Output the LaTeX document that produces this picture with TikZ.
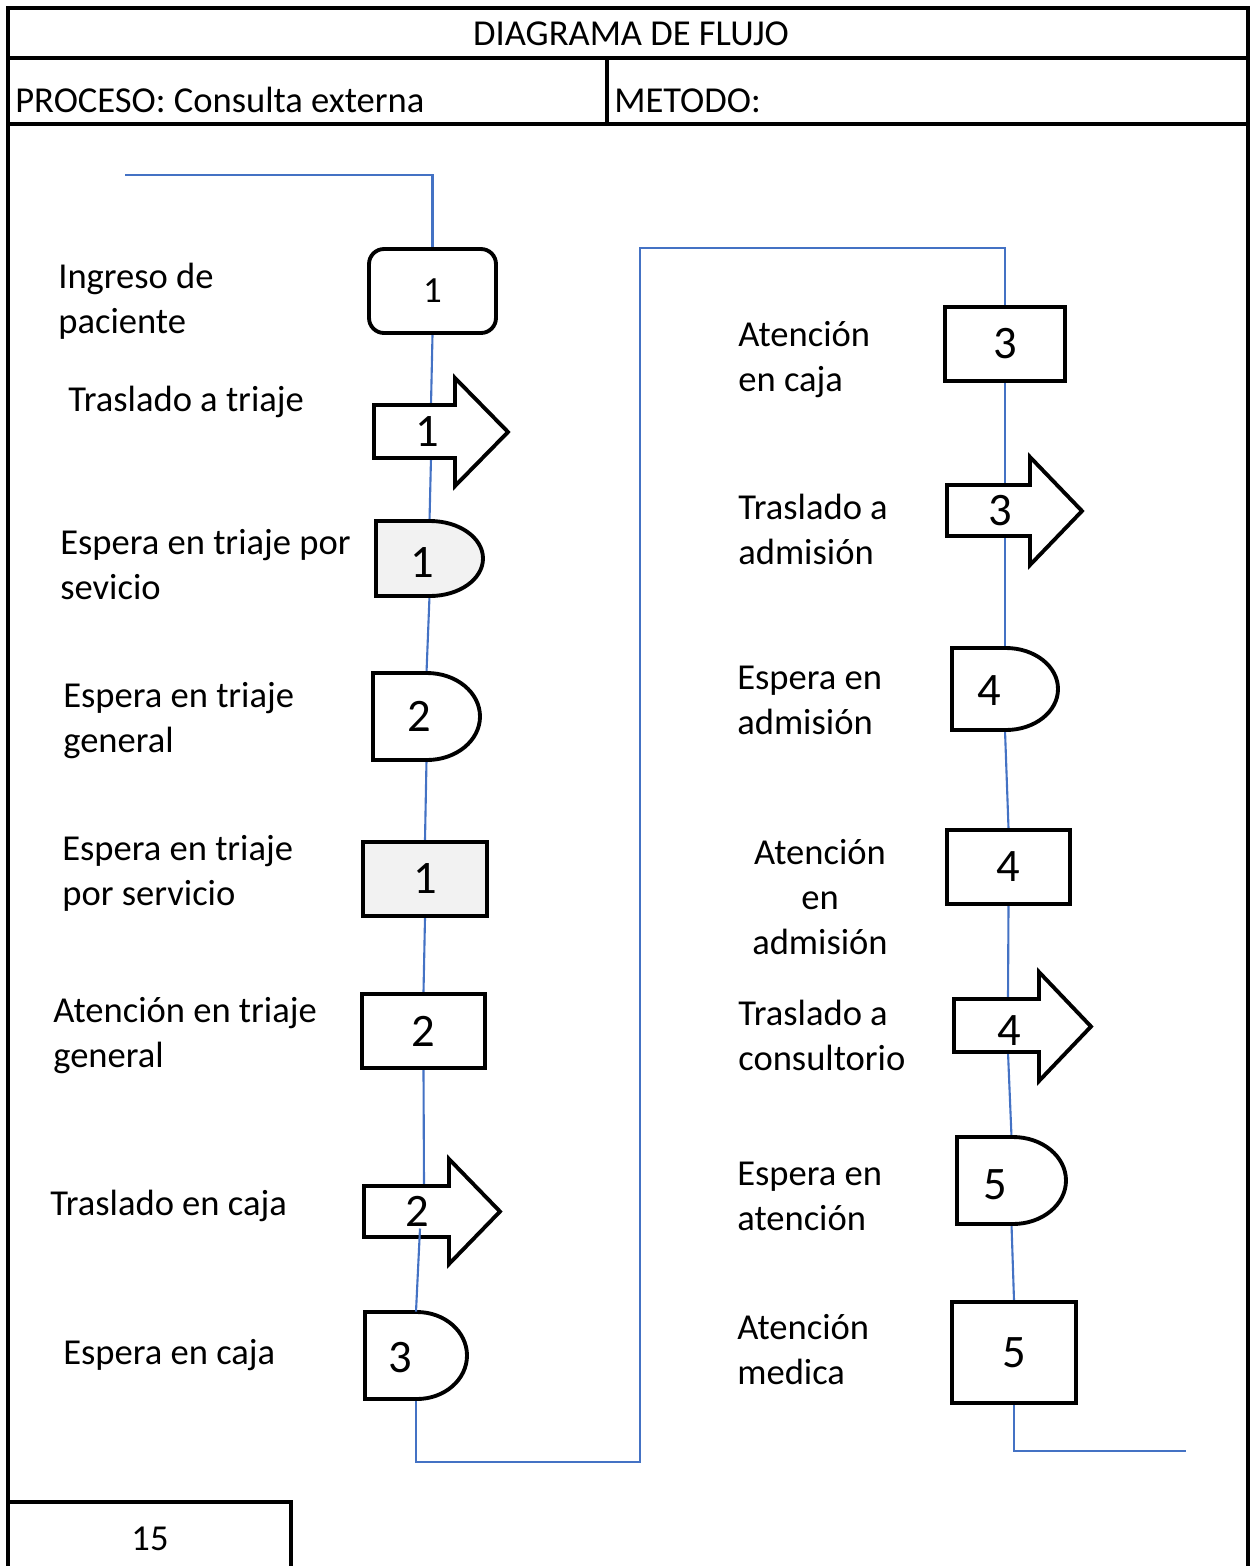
\documentclass[tikz,border=0pt]{standalone}
\usepackage{fontspec}
\setmainfont{Carlito}
\usetikzlibrary{backgrounds,calc}
\definecolor{flowblue}{RGB}{68,114,196}
\definecolor{shadegray}{RGB}{242,242,242}
\newcommand\lblfont{\fontsize{20.8pt}{25.6pt}\selectfont}
\newcommand\bignum{\fontsize{26.5pt}{30pt}\selectfont}
\newcommand\smallnum{\fontsize{21pt}{24pt}\selectfont}
% delay outline: x1,y1,x2,y2,mx,fill
\newcommand\delaypath[6]{%
  \draw[shp, fill=#6] (#1,#2) -- (#5,#2)
    .. controls ({#5+0.5523*(#3-#5)},#2) and (#3,{#2+0.2239*(#4-#2)}) .. (#3,{0.5*(#2+#4)})
    .. controls (#3,{#4-0.2239*(#4-#2)}) and ({#5+0.5523*(#3-#5)},#4) .. (#5,#4)
    -- (#1,#4) -- cycle;}
% arrow outline: xleft, bodytop, bodybottom, headbase x, headtop, headbottom, tip x
\newcommand\arrowpath[7]{%
  \draw[shp] (#1,#2) -- (#4,#2) -- (#4,#5) -- (#7,{0.5*(#5+#6)}) -- (#4,#6) -- (#4,#3) -- (#1,#3) -- cycle;}
\begin{document}
\begin{tikzpicture}[x=0.02cm,y=-0.02cm,
  frameline/.style={line width=2pt},
  shp/.style={draw=black, line width=2.2pt, line join=miter, fill=white},
  procbox/.style={shp, rectangle, inner sep=0pt, font=\bignum},
  anchorbox/.style={inner sep=0pt, draw=none, minimum width=0.6cm},
  dig/.style={inner sep=0pt, font=\bignum},
  flow/.style={draw=flowblue, line width=1.2pt},
  lbl/.style={anchor=base west, align=left, inner sep=0pt, font=\lblfont},
  hdr/.style={inner sep=0pt, font=\lblfont}]
\useasboundingbox (0,0) rectangle (1250,1566);
% frame
\draw[frameline] (8,1570) -- (8,8) -- (1248,8) -- (1248,1570);
\draw[frameline] (8,58) -- (1248,58);
\draw[frameline] (8,124) -- (1248,124);
\draw[frameline] (607,58) -- (607,124);
\draw[frameline] (8,1502) -- (291,1502) -- (291,1570);
\node[hdr, anchor=base] (title) at (631,45) {DIAGRAMA DE FLUJO};
\node[hdr, anchor=base west] (proceso) at (15,112) {PROCESO: Consulta externa};
\node[hdr, anchor=base west] (metodo) at (614,112) {METODO:};
\node[hdr, anchor=base] (pagenum) at (150,1550) {15};

% left column shapes
\node[procbox, rounded corners=0.3cm, minimum width=2.54cm, minimum height=1.68cm, font=\smallnum] (s1) at (432.5,291) {1};
\arrowpath{374}{405}{458}{455}{378}{486}{508}
\node[anchorbox, minimum height=1.06cm, label={[dig, xshift=-0.08cm]center:1}] (a1) at (431,431.5) {};
\delaypath{376}{521}{483}{596}{430}{shadegray}
\node[anchorbox, minimum height=1.5cm, label={[dig, xshift=-0.15cm, yshift=-0.09cm]center:1}] (d1) at (429.5,558.5) {};
\delaypath{373}{673}{480}{760}{427}{white}
\node[anchorbox, minimum height=1.74cm, label={[dig, xshift=-0.15cm]center:2}] (d2) at (426.5,716.5) {};
\node[procbox, fill=shadegray, minimum width=2.48cm, minimum height=1.48cm] (r1) at (425,879) {1};
\node[procbox, minimum width=2.46cm, minimum height=1.48cm] (r2) at (423.5,1031) {2};
\arrowpath{364}{1186}{1237}{449}{1159}{1264}{500}
\node[anchorbox, minimum height=1.02cm, label={[dig, xshift=-0.14cm]center:2}] (a2) at (424,1211.5) {};
\delaypath{365}{1312}{467}{1399}{417}{white}
\node[anchorbox, minimum height=1.74cm, label={[dig, xshift=-0.32cm, yshift=-0.05cm]center:3}] (d3) at (416,1355.5) {};

% right column shapes
\node[procbox, minimum width=2.4cm, minimum height=1.48cm] (r3) at (1005,344) {3};
\arrowpath{947}{485}{536}{1030}{457}{565}{1082}
\node[anchorbox, minimum height=1.02cm, label={[dig, xshift=-0.1cm]center:3}] (a3) at (1005,510.5) {};
\delaypath{952}{648}{1058}{730}{1006}{white}
\node[anchorbox, minimum height=1.64cm, label={[dig, xshift=-0.32cm, yshift=-0.04cm]center:4}] (d4) at (1005,689) {};
\node[procbox, minimum width=2.46cm, minimum height=1.48cm] (r4) at (1008.5,867) {4};
\arrowpath{954}{999}{1052}{1039}{972}{1081}{1091}
\node[anchorbox, minimum height=1.06cm, label={[dig, xshift=0.02cm, yshift=-0.1cm]center:4}] (a4) at (1008,1025.5) {};
\delaypath{957}{1137}{1066}{1224}{1013}{white}
\node[anchorbox, minimum height=1.74cm, label={[dig, xshift=-0.33cm, yshift=-0.09cm]center:5}] (d5) at (1011.5,1180.5) {};
\node[procbox, minimum width=2.48cm, minimum height=2.02cm] (r5) at (1014,1352.5) {5};

% connector helper points
\coordinate (start) at (125,175);
\coordinate (b1) at (640,1462);
\coordinate (b2) at (640,248);
\coordinate (finish) at (1186,1451);

\begin{pgfonlayer}{background}
\draw[flow] (start) -| (s1.north);
\draw[flow] (s1.south) -- (a1.north);
\draw[flow] (a1.south) -- (d1.north);
\draw[flow] (d1.south) -- (d2.north);
\draw[flow] (d2.south) -- (r1.north);
\draw[flow] (r1.south) -- (r2.north);
\draw[flow] (r2.south) -- (a2.north);
\draw[flow] (d3.south) |- (b1) -- (b2) -| (r3.north);
\draw[flow] (r3.south) -- (a3.north);
\draw[flow] (a3.south) -- (d4.north);
\draw[flow] (d4.south) -- (r4.north);
\draw[flow] (r4.south) -- (a4.north);
\draw[flow] (a4.south) -- (d5.north);
\draw[flow] (d5.south) -- (r5.north);
\draw[flow] (r5.south) |- (finish);
\end{pgfonlayer}
\draw[flow] ($(a2.center)+(-4,17)$) -- (d3.north);

% labels left (base = baseline of last line)
\node[lbl] (l1) at (58,333) {Ingreso de\\paciente};
\node[lbl] (l2) at (68,411) {Traslado a triaje};
\node[lbl] (l3) at (60,599) {Espera en triaje por\\sevicio};
\node[lbl] (l4) at (63,752) {Espera en triaje\\general};
\node[lbl] (l5) at (62,905) {Espera en triaje\\por servicio};
\node[lbl] (l6) at (53,1067) {Atención en triaje\\general};
\node[lbl] (l7) at (50,1215) {Traslado en caja};
\node[lbl] (l8) at (63,1364) {Espera en caja};
% labels right
\node[lbl] (m1) at (738,391) {Atención\\en caja};
\node[lbl] (m2) at (738,564) {Traslado a\\admisión};
\node[lbl] (m3) at (737,734) {Espera en\\admisión};
\node[lbl, anchor=base, align=center] (m4) at (820,954) {Atención\\en\\admisión};
\node[lbl] (m5) at (738,1070) {Traslado a\\consultorio};
\node[lbl] (m6) at (737,1230) {Espera en\\atención};
\node[lbl] (m7) at (737,1384) {Atención\\medica};
\end{tikzpicture}
\end{document}
